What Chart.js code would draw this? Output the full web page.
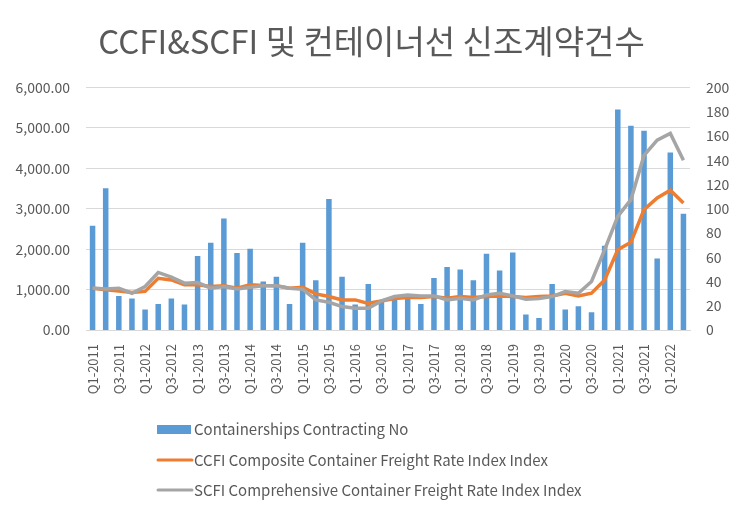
<!DOCTYPE html>
<html>
<head>
<meta charset="utf-8">
<script src="https://cdn.jsdelivr.net/npm/chart.js@4"></script>
<style>
  html, body { margin: 0; padding: 0; background: #fff; }
  #wrap { width: 743px; height: 514px; }
</style>
</head>
<body>
<div id="wrap"><canvas id="chart"></canvas></div>
<script>
const quarters = [];
for (let y = 2011; y <= 2022; y++) {
  for (let q = 1; q <= 4; q++) {
    if (y === 2022 && q > 2) break;
    quarters.push('Q' + q + '-' + y);
  }
}

// number of contracts (right axis)
const contracting = [86, 117, 28, 26, 17, 21.5, 26, 21, 61, 72, 92, 63.5, 67, 40, 44, 21.5,
  72, 41, 108, 44, 21, 38, 24, 27.5, 26, 21.5, 43, 52, 50, 41, 63, 49, 64, 12.7, 10, 38,
  17, 19.6, 14.6, 69.5, 182, 168.5, 164.5, 59, 146.5, 96];

// CCFI (left axis)
const ccfi = [1035, 995, 968, 930, 955, 1280, 1240, 1120, 1118, 1076, 1093, 1035, 1118, 1100, 1093, 1035,
  1060, 895, 828, 745, 745, 660, 720, 778, 803, 803, 828, 786, 828, 803, 828, 844, 828, 803, 828, 844,
  910, 844, 910, 1240, 1986, 2170, 2980, 3270, 3460, 3145];

// SCFI (left axis)
const scfi = [1040, 1018, 1035, 910, 1076, 1424, 1308, 1159, 1175, 1035, 1076, 1018, 1060, 1093, 1093, 1035,
  1010, 745, 687, 580, 538, 538, 720, 828, 869, 844, 844, 745, 786, 745, 869, 910, 844, 761, 778, 828,
  952, 910, 1200, 1986, 2814, 3228, 4320, 4700, 4866, 4204];

const leftTicks = [0, 1000, 2000, 3000, 4000, 5000, 6000];
const rightTicks = [0, 20, 40, 60, 80, 100, 120, 140, 160, 180, 200];

const FONT = "'Noto Sans CJK KR', 'Noto Sans', sans-serif";
const TXT = '#595959';

// legend drawn as stacked rows below the plot
const stackedLegend = {
  id: 'stackedLegend',
  afterDraw(chart) {
    const ctx = chart.ctx;
    const rows = [429, 460, 490];
    ctx.save();
    ctx.font = '15px ' + FONT;
    ctx.textBaseline = 'middle';
    chart.data.datasets.forEach((ds, i) => {
      const y = rows[i];
      if (ds.type === 'bar') {
        ctx.fillStyle = ds.backgroundColor;
        ctx.fillRect(157, y - 4, 34, 9);
      } else {
        ctx.strokeStyle = ds.borderColor;
        ctx.lineWidth = 3;
        ctx.lineCap = 'round';
        ctx.beginPath();
        ctx.moveTo(158, y);
        ctx.lineTo(192, y);
        ctx.stroke();
      }
      ctx.fillStyle = TXT;
      ctx.fillText(ds.label, 194, y);
    });
    ctx.restore();
  }
};

new Chart(document.getElementById('chart'), {
  data: {
    labels: quarters,
    datasets: [
      {
        type: 'bar',
        label: 'Containerships Contracting No',
        data: contracting,
        yAxisID: 'y1',
        backgroundColor: '#5B9BD5',
        barPercentage: 0.42,
        categoryPercentage: 1,
        order: 2
      },
      {
        type: 'line',
        label: 'CCFI Composite Container Freight Rate Index Index',
        data: ccfi,
        yAxisID: 'y',
        borderColor: '#ED7D31',
        backgroundColor: '#ED7D31',
        borderWidth: 3.5,
        pointRadius: 0,
        tension: 0,
        order: 1
      },
      {
        type: 'line',
        label: 'SCFI Comprehensive Container Freight Rate Index Index',
        data: scfi,
        yAxisID: 'y',
        borderColor: '#A5A5A5',
        backgroundColor: '#A5A5A5',
        borderWidth: 3.5,
        pointRadius: 0,
        tension: 0,
        order: 0
      }
    ]
  },
  options: {
    responsive: true,
    maintainAspectRatio: false,
    animation: false,
    layout: { padding: { left: 0, right: 0, top: 0, bottom: 100 } },
    plugins: {
      legend: { display: false },
      tooltip: { enabled: false },
      title: {
        display: true,
        text: 'CCFI&SCFI 및 컨테이너선 신조계약건수',
        color: TXT,
        font: { family: FONT, size: 33, weight: 'normal' },
        padding: { top: 22, bottom: 26 }
      }
    },
    scales: {
      x: {
        grid: { display: false },
        border: { color: '#d9d9d9' },
        ticks: {
          autoSkip: false,
          minRotation: 90,
          maxRotation: 90,
          padding: 6,
          color: TXT,
          font: { family: FONT, size: 13 },
          callback: function (v, i) { return i % 2 === 0 ? this.getLabelForValue(v) : ''; }
        },
        afterFit: s => { s.height = 84; }
      },
      y: {
        position: 'left',
        min: 0,
        max: 6000,
        afterBuildTicks: s => { s.ticks = leftTicks.map(v => ({ value: v })); },
        grid: { color: '#d9d9d9', drawTicks: false },
        border: { display: false },
        ticks: {
          padding: 16,
          color: TXT,
          font: { family: FONT, size: 14 },
          callback: v => v.toLocaleString('en-US', { minimumFractionDigits: 2, maximumFractionDigits: 2 })
        },
        afterFit: s => { s.width = 86; }
      },
      y1: {
        position: 'right',
        min: 0,
        max: 200,
        afterBuildTicks: s => { s.ticks = rightTicks.map(v => ({ value: v })); },
        grid: { display: false, drawTicks: false },
        border: { display: false },
        ticks: {
          padding: 16,
          color: TXT,
          font: { family: FONT, size: 14 }
        },
        afterFit: s => { s.width = 53; }
      }
    }
  },
  plugins: [stackedLegend]
});
</script>
</body>
</html>
